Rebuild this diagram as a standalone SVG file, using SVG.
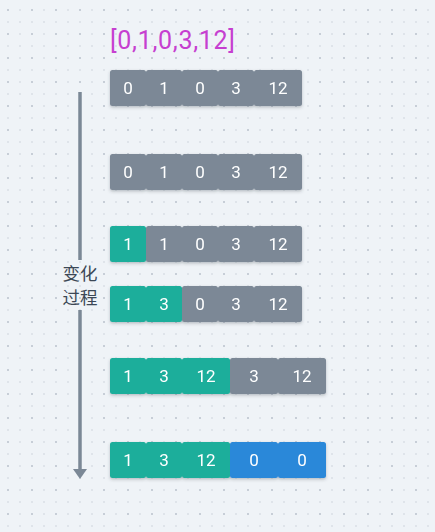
<svg xmlns="http://www.w3.org/2000/svg" width="435" height="532" viewBox="0 0 435 532">
<style>
.g{fill:#7b8896}
.t{fill:#1bae9b}
.b{fill:#2c88d9}
.v{font-family:Roboto,"Liberation Sans",sans-serif;font-size:17px;fill:#ffffff;text-anchor:middle}
.title{font-family:Roboto,"Liberation Sans",sans-serif;font-size:25px;font-weight:400;fill:#c63fd0}
.lbl{font-family:"Noto Sans CJK SC","Noto Sans",sans-serif;font-size:17.5px;fill:#3c4856;text-anchor:middle}
</style>
<defs>
<pattern id="dots" patternUnits="userSpaceOnUse" x="0" y="0" width="24" height="24">
<rect x="7" y="9" width="2" height="2" fill="#c7ced7"/>
<rect x="19" y="9" width="2" height="2" fill="#dfe4ea"/>
<rect x="7" y="21" width="2" height="2" fill="#dfe4ea"/>
<rect x="19" y="21" width="2" height="2" fill="#dfe4ea"/>
</pattern>
<filter id="sh" x="-20%" y="-20%" width="140%" height="150%">
<feDropShadow dx="0" dy="1.5" stdDeviation="1.5" flood-color="#34404c" flood-opacity="0.3"/>
</filter>
</defs>
<rect width="435" height="532" fill="#eff3f7"/>
<rect width="435" height="532" fill="url(#dots)"/>

<text class="title" x="110" y="48.5" textLength="125" lengthAdjust="spacing">[0,1,0,3,12]</text>

<g id="connectors">
<line x1="80" y1="92" x2="80" y2="260" stroke="#7b8896" stroke-width="3.5"/>
<line x1="80" y1="310" x2="80" y2="470" stroke="#7b8896" stroke-width="3.5"/>
<path d="M73,469 L87,469 L80,479 Z" fill="#7b8896"/>
</g>

<g id="label">
<text class="lbl" x="80" y="279.5">变化</text>
<text class="lbl" x="80" y="303.5">过程</text>
</g>

<g id="row1" filter="url(#sh)">
<rect class="g" x="110" y="70" width="36" height="36" rx="2.5"/>
<rect class="g" x="146" y="70" width="36" height="36" rx="2.5"/>
<rect class="g" x="182" y="70" width="36" height="36" rx="2.5"/>
<rect class="g" x="218" y="70" width="36" height="36" rx="2.5"/>
<rect class="g" x="254" y="70" width="48" height="36" rx="2.5"/>
<text class="v" x="128" y="94">0</text>
<text class="v" x="164" y="94">1</text>
<text class="v" x="200" y="94">0</text>
<text class="v" x="236" y="94">3</text>
<text class="v" x="278" y="94">12</text>
</g>

<g id="row2" filter="url(#sh)">
<rect class="g" x="110" y="154" width="36" height="36" rx="2.5"/>
<rect class="g" x="146" y="154" width="36" height="36" rx="2.5"/>
<rect class="g" x="182" y="154" width="36" height="36" rx="2.5"/>
<rect class="g" x="218" y="154" width="36" height="36" rx="2.5"/>
<rect class="g" x="254" y="154" width="48" height="36" rx="2.5"/>
<text class="v" x="128" y="178">0</text>
<text class="v" x="164" y="178">1</text>
<text class="v" x="200" y="178">0</text>
<text class="v" x="236" y="178">3</text>
<text class="v" x="278" y="178">12</text>
</g>

<g id="row3" filter="url(#sh)">
<rect class="t" x="110" y="226" width="36" height="36" rx="2.5"/>
<rect class="g" x="146" y="226" width="36" height="36" rx="2.5"/>
<rect class="g" x="182" y="226" width="36" height="36" rx="2.5"/>
<rect class="g" x="218" y="226" width="36" height="36" rx="2.5"/>
<rect class="g" x="254" y="226" width="48" height="36" rx="2.5"/>
<text class="v" x="128" y="250">1</text>
<text class="v" x="164" y="250">1</text>
<text class="v" x="200" y="250">0</text>
<text class="v" x="236" y="250">3</text>
<text class="v" x="278" y="250">12</text>
</g>

<g id="row4" filter="url(#sh)">
<rect class="t" x="110" y="286" width="36" height="36" rx="2.5"/>
<rect class="t" x="146" y="286" width="36" height="36" rx="2.5"/>
<rect class="g" x="182" y="286" width="36" height="36" rx="2.5"/>
<rect class="g" x="218" y="286" width="36" height="36" rx="2.5"/>
<rect class="g" x="254" y="286" width="48" height="36" rx="2.5"/>
<text class="v" x="128" y="310">1</text>
<text class="v" x="164" y="310">3</text>
<text class="v" x="200" y="310">0</text>
<text class="v" x="236" y="310">3</text>
<text class="v" x="278" y="310">12</text>
</g>

<g id="row5" filter="url(#sh)">
<rect class="t" x="110" y="358" width="36" height="36" rx="2.5"/>
<rect class="t" x="146" y="358" width="36" height="36" rx="2.5"/>
<rect class="t" x="182" y="358" width="48" height="36" rx="2.5"/>
<rect class="g" x="230" y="358" width="48" height="36" rx="2.5"/>
<rect class="g" x="278" y="358" width="48" height="36" rx="2.5"/>
<text class="v" x="128" y="382">1</text>
<text class="v" x="164" y="382">3</text>
<text class="v" x="206" y="382">12</text>
<text class="v" x="254" y="382">3</text>
<text class="v" x="302" y="382">12</text>
</g>

<g id="row6" filter="url(#sh)">
<rect class="t" x="110" y="442" width="36" height="36" rx="2.5"/>
<rect class="t" x="146" y="442" width="36" height="36" rx="2.5"/>
<rect class="t" x="182" y="442" width="48" height="36" rx="2.5"/>
<rect class="b" x="230" y="442" width="48" height="36" rx="2.5"/>
<rect class="b" x="278" y="442" width="48" height="36" rx="2.5"/>
<text class="v" x="128" y="466">1</text>
<text class="v" x="164" y="466">3</text>
<text class="v" x="206" y="466">12</text>
<text class="v" x="254" y="466">0</text>
<text class="v" x="302" y="466">0</text>
</g>
</svg>
